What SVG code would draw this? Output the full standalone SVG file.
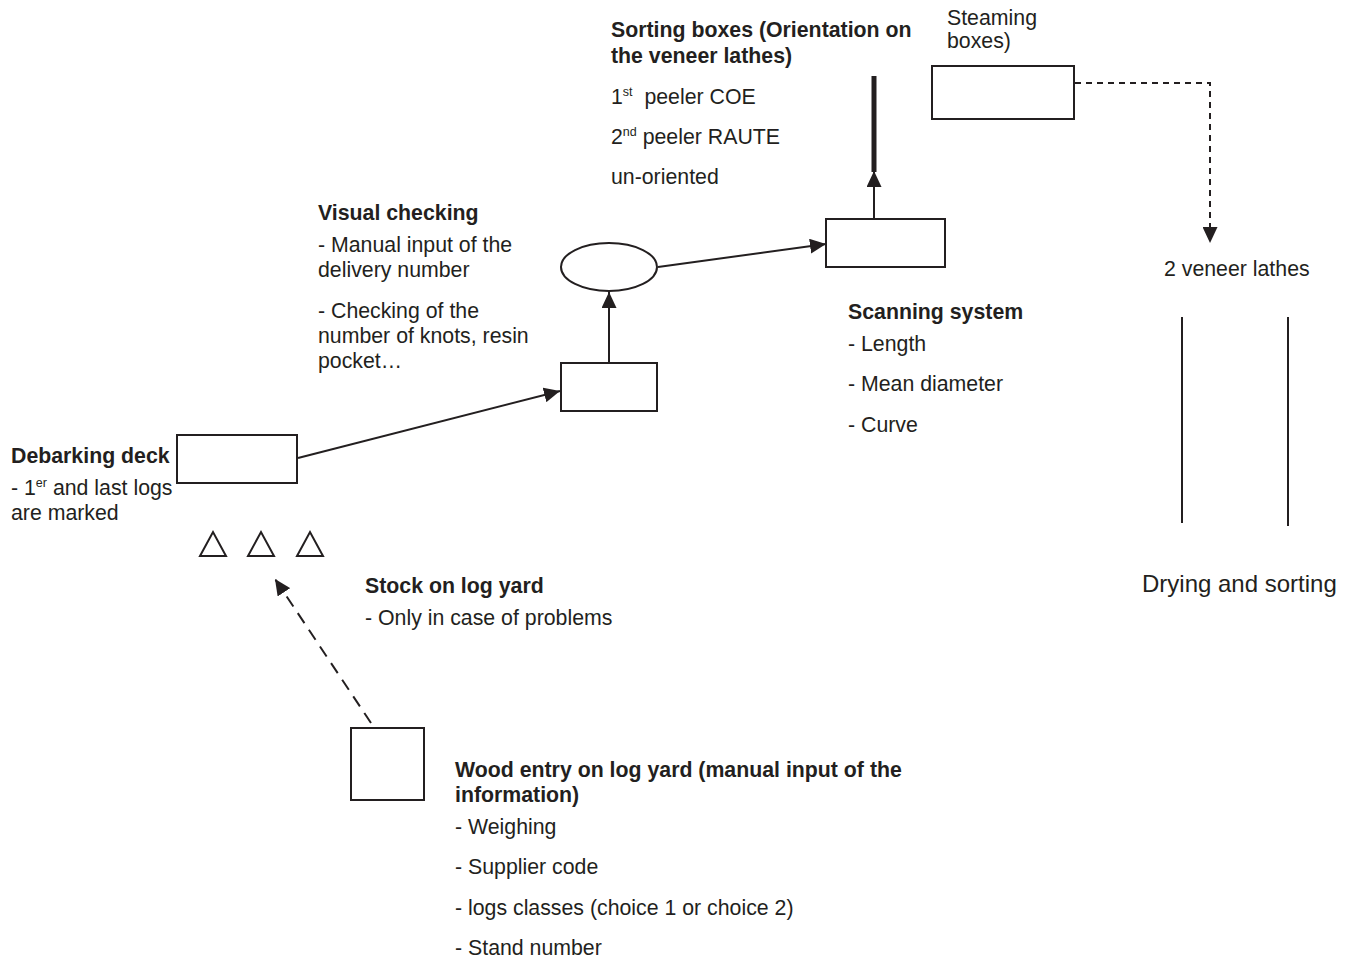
<svg xmlns="http://www.w3.org/2000/svg" width="1354" height="961" viewBox="0 0 1354 961">
<style>
text{font-family:"Liberation Sans",Arial,sans-serif;font-size:21.3px;fill:#231f20}
.b{font-weight:bold}
.sup{font-size:12.5px}
.box{fill:#fff;stroke:#231f20;stroke-width:2}
.ln{fill:none;stroke:#231f20;stroke-width:2}
</style>
<defs>
<marker id="ah" viewBox="0 0 10 10" refX="10" refY="5" markerWidth="16" markerHeight="15" markerUnits="userSpaceOnUse" orient="auto" preserveAspectRatio="none">
<path d="M0,0L10,5L0,10z" fill="#231f20"/>
</marker>
</defs>
<rect width="1354" height="961" fill="#fff"/>

<g id="connectors">
<line class="ln" x1="298" y1="458" x2="560" y2="391" marker-end="url(#ah)"/>
<line class="ln" x1="609" y1="363" x2="609" y2="292" marker-end="url(#ah)"/>
<line class="ln" x1="658" y1="267" x2="826" y2="244" marker-end="url(#ah)"/>
<line class="ln" x1="874" y1="219" x2="874" y2="171" marker-end="url(#ah)"/>
<line x1="874" y1="76" x2="874" y2="172" stroke="#231f20" stroke-width="5"/>
<polyline class="ln" points="1075,83 1210,83 1210,243" stroke-dasharray="6,5" marker-end="url(#ah)"/>
<line class="ln" x1="371" y1="723" x2="275" y2="579" stroke-dasharray="12,8" marker-end="url(#ah)"/>
</g>

<g id="debarking">
<rect class="box" x="177" y="435" width="120" height="48"/>
<text class="b" x="11" y="463">Debarking deck</text>
<text x="11" y="495">- 1<tspan class="sup" dy="-8">er</tspan><tspan dy="8"> and last logs</tspan></text>
<text x="11" y="520">are marked</text>
</g>

<g id="stock">
<path class="ln" d="M200,556L213,532L226,556Z M248,556L261,532L274,556Z M297,556L310,532L323,556Z" stroke-width="1.5"/>
<text class="b" x="365" y="593">Stock on log yard</text>
<text x="365" y="625">- Only in case of problems</text>
</g>

<g id="wood-entry">
<rect class="box" x="351" y="728" width="73" height="72"/>
<text class="b" x="455" y="777">Wood entry on log yard (manual input of the</text>
<text class="b" x="455" y="802">information)</text>
<text x="455" y="834">- Weighing</text>
<text x="455" y="874">- Supplier code</text>
<text x="455" y="915">- logs classes (choice 1 or choice 2)</text>
<text x="455" y="955">- Stand number</text>
</g>

<g id="visual-check">
<rect class="box" x="561" y="363" width="96" height="48"/>
<ellipse class="box" cx="609" cy="267" rx="48" ry="24"/>
<text class="b" x="318" y="220">Visual checking</text>
<text x="318" y="252">- Manual input of the</text>
<text x="318" y="277">delivery number</text>
<text x="318" y="318">- Checking of the</text>
<text x="318" y="343">number of knots, resin</text>
<text x="318" y="368">pocket…</text>
</g>

<g id="scanning">
<rect class="box" x="826" y="219" width="119" height="48"/>
<text class="b" x="848" y="319">Scanning system</text>
<text x="848" y="351">- Length</text>
<text x="848" y="391">- Mean diameter</text>
<text x="848" y="432">- Curve</text>
</g>

<g id="sorting">
<text class="b" x="611" y="37">Sorting boxes (Orientation on</text>
<text class="b" x="611" y="63">the veneer lathes)</text>
<text x="611" y="104">1<tspan class="sup" dy="-8">st</tspan><tspan dy="8">&#160; peeler COE</tspan></text>
<text x="611" y="144">2<tspan class="sup" dy="-8">nd</tspan><tspan dy="8"> peeler RAUTE</tspan></text>
<text x="611" y="184">un-oriented</text>
</g>

<g id="steaming">
<rect class="box" x="932" y="66" width="142" height="53"/>
<text x="947" y="25">Steaming</text>
<text x="947" y="48">boxes)</text>
</g>

<g id="lathes">
<text x="1164" y="276">2 veneer lathes</text>
<line class="ln" x1="1182" y1="317" x2="1182" y2="523"/>
<line class="ln" x1="1288" y1="317" x2="1288" y2="526"/>
<text x="1142" y="592" style="font-size:24px">Drying and sorting</text>
</g>
</svg>
